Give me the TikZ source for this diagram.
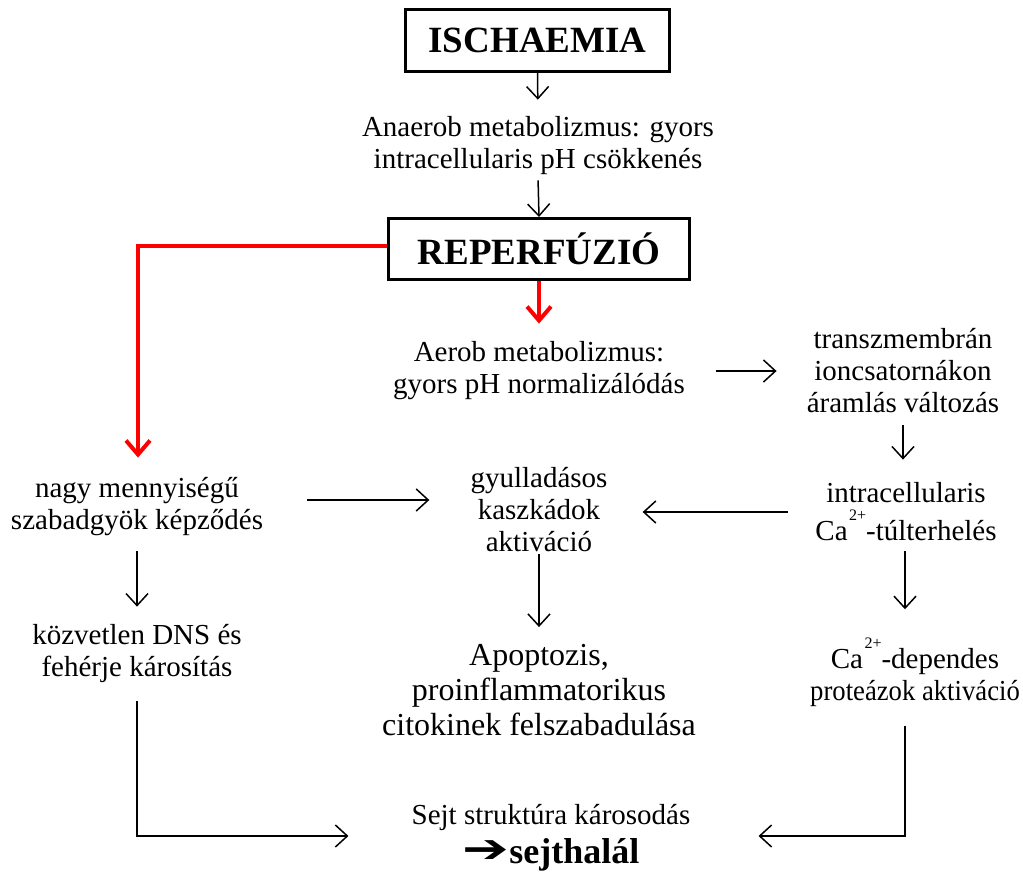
\documentclass[tikz,border=0pt]{standalone}
\usepackage{fontspec}
\setmainfont{Liberation Serif}
\newfontfamily\symfont{DejaVu Sans}
\usetikzlibrary{arrows.meta}
% raised charge label after "Ca"
\newcommand{\caion}{Ca\hspace{0.05em}\raisebox{0.7em}{\fontsize{16}{16}\selectfont 2+}}
\begin{document}
\begin{tikzpicture}[x=1pt,y=-1pt,
  txt/.style={align=center,font=\fontsize{29}{32}\selectfont,inner sep=2pt},
  bigtxt/.style={align=center,font=\fontsize{32}{35}\selectfont,inner sep=2pt},
  titlebox/.style={draw,line width=3pt,inner sep=0pt,font=\bfseries\fontsize{37}{40}\selectfont},
  arr/.style={line width=1.5pt,-{Straight Barb[length=12pt,width=22pt]}},
  redarr/.style={draw=red,line width=4pt,-{Straight Barb[length=14pt,width=24pt]}}]
\useasboundingbox (0,0) rectangle (1023,872);

% boxed stages
\node[titlebox,minimum width=264pt,minimum height=62pt] (isch) at (537.5,40.5) {ISCHAEMIA};
\node[titlebox,minimum width=301pt,minimum height=61pt] (reperf) at (539,249) {REPERFÚZIÓ};

% text steps
\node[txt] (anaer) at (538,146) {Anaerob metabolizmus: gyors\\intracellularis pH csökkenés};
\node[txt] (aerob) at (539,371) {Aerob metabolizmus:\\gyors pH normalizálódás};
\node[txt] (transz) at (903,371) {transzmembrán\\ioncsatornákon\\áramlás változás};
\node[txt] (intra) at (906,512) {intracellularis\\[6pt]\caion-túlterhelés};
\node[txt] (gyull) at (539,510) {gyulladásos\\kaszkádok\\aktiváció};
\node[txt] (nagy) at (137,507) {nagy mennyiségű\\szabadgyök képződés};
\node[txt] (kozv) at (137,653) {közvetlen DNS és\\fehérje károsítás};
\node[bigtxt] (apop) at (539,690) {Apoptozis,\\proinflammatorikus\\citokinek felszabadulása};
\node[txt] (cadep) at (915,672) {\caion-dependes\\\scalebox{0.92}[1]{proteázok aktiváció}};
\node[align=center,inner sep=0pt] (sejt) at (551,838)
  {{\fontsize{29}{32}\selectfont Sejt struktúra károsodás}\\[7pt]
   {\fontsize{36}{38}\selectfont\raisebox{1pt}{\scalebox{1.55}[1.1]{\symfont ➔}}\bfseries sejthalál}};

% black connectors
\draw[arr,shorten >=15pt] (isch.south) -- (anaer.north);
\draw[arr,shorten <=3pt] (anaer.south) -- (reperf.north);
\draw[arr,shorten <=29pt,shorten >=28pt] (aerob.east) -- (aerob.east -| transz.west);
\draw[arr,shorten <=10pt,shorten >=21pt] (transz.south) -- (transz.south |- intra.north);
\draw[arr,shorten <=25pt,shorten >=33pt] (intra.west) -- (intra.west -| gyull.east);
\draw[arr,shorten <=42pt,shorten >=39pt] ([yshift=7pt]nagy.east) -- ([yshift=7pt]nagy.east -| gyull.west);
\draw[arr,shorten <=13pt,shorten >=15pt] (nagy.south) -- (kozv.north);
\draw[arr,shorten >=15pt] (gyull.south) -- (gyull.south |- apop.north);
\draw[arr,shorten <=8pt,shorten >=26pt] ([xshift=-1pt]intra.south) -- ([xshift=-1pt]intra.south |- cadep.north);
\draw[arr,shorten <=17pt,shorten >=63pt] (kozv.south) |- ([yshift=2pt]sejt.west);
\draw[arr,shorten <=17pt,shorten >=68pt] ([xshift=-10pt]cadep.south) |- ([yshift=2pt]sejt.east);

% red connectors
\draw[redarr,shorten >=18pt] ([yshift=3pt]reperf.west) -| ([xshift=1pt]nagy.north);
\draw[redarr,shorten >=16pt] (reperf.south) -- (aerob.north);
\end{tikzpicture}
\end{document}
